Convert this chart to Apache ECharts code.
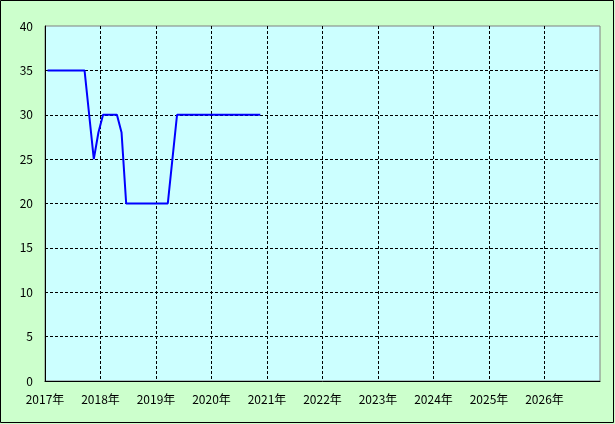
<!DOCTYPE html>
<html><head><meta charset="utf-8">
<script src="https://cdn.jsdelivr.net/npm/echarts@6/dist/echarts.min.js"></script>
<style>html,body{margin:0;padding:0;background:#CCFFCC;}#c{width:615px;height:424px;}</style>
</head><body><div id="c"></div>
<script>
// Monthly observations (YYYY-MM), plotted mid-month
const months = [
 '2017-01','2017-02','2017-03','2017-04','2017-05','2017-06','2017-07','2017-08','2017-09','2017-10','2017-11','2017-12',
 '2018-01','2018-02','2018-03','2018-04','2018-05','2018-06','2018-07','2018-08','2018-09','2018-10','2018-11','2018-12',
 '2019-01','2019-02','2019-03','2019-04','2019-05','2019-06','2019-07','2019-08','2019-09','2019-10','2019-11','2019-12',
 '2020-01','2020-02','2020-03','2020-04','2020-05','2020-06','2020-07','2020-08','2020-09','2020-10','2020-11'
];
const values = [
 35,35,35,35,35,35,35,35,35,30,25,28,
 30,30,30,30,28,20,20,20,20,20,20,20,
 20,20,20,25,30,30,30,30,30,30,30,30,
 30,30,30,30,30,30,30,30,30,30,30
];
const yearTicks = [2017,2018,2019,2020,2021,2022,2023,2024,2025,2026,2027];
const yTicks = [0,5,10,15,20,25,30,35,40];

const seriesData = months.map((m, i) => {
  const [y, mo] = m.split('-').map(Number);
  return [y + (mo - 1 + 0.55) / 12, values[i]];
});

const font = '"Noto Sans CJK JP", "DejaVu Sans", sans-serif';
const chart = echarts.init(document.getElementById('c'));
chart.setOption({
  backgroundColor: '#CCFFCC',
  animation: false,
  grid: { left: 45, top: 26, right: 15, bottom: 43, show: true, backgroundColor: '#CCFFFF', borderColor: '#808080', borderWidth: 1 },
  xAxis: {
    type: 'value', min: yearTicks[0], max: yearTicks[yearTicks.length - 1], interval: 1,
    axisLine: { show: true, lineStyle: { color: '#000', width: 1 } },
    axisTick: { show: false },
    axisLabel: { color: '#000', fontSize: 12, fontFamily: font, margin: 12, showMaxLabel: false,
      formatter: v => v + '年' },
    splitLine: { show: true, showMinLine: false, showMaxLine: false, lineStyle: { color: '#000', type: [3, 2], width: 1 } }
  },
  yAxis: {
    type: 'value', min: yTicks[0], max: yTicks[yTicks.length - 1], interval: 5,
    axisLine: { show: true, lineStyle: { color: '#000', width: 1 } },
    axisTick: { show: false },
    axisLabel: { color: '#000', fontSize: 12, fontFamily: font, margin: 12 },
    splitLine: { show: true, showMinLine: false, showMaxLine: false, lineStyle: { color: '#000', type: [3, 2], width: 1 } }
  },
  series: [{
    type: 'line', data: seriesData, showSymbol: false, symbol: 'none',
    lineStyle: { color: '#0000FF', width: 2 }
  }],
  graphic: [{ type: 'rect', shape: { x: 0.5, y: 0.5, width: 613, height: 422 }, style: { fill: 'none', stroke: '#000', lineWidth: 1 }, z: 100 }]
});
</script></body></html>
